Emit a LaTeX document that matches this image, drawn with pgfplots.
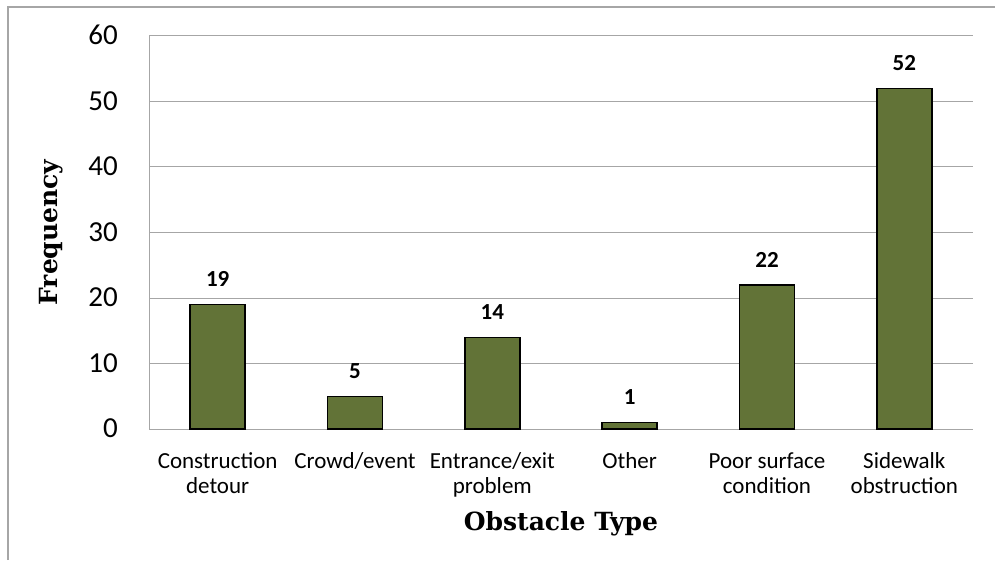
\documentclass[border=0pt]{standalone}
\usepackage{fontspec}
\setmainfont{Carlito}
\newfontfamily\labfont{DejaVu Serif}
\usepackage{pgfplots}
\pgfplotsset{compat=1.18}
\definecolor{barfill}{RGB}{98,115,55}
\definecolor{gridgray}{RGB}{166,166,166}
\begin{document}
\begin{tikzpicture}[x=1pt,y=1pt]
\path[use as bounding box] (0,0) rectangle (995,560);
\draw[gridgray, line width=2pt] (8,0) -- (8,553) -- (995,553);
\begin{axis}[
  at={(149pt,131pt)}, anchor=south west,
  scale only axis, width=824pt, height=393pt,
  xmin=-0.5, xmax=5.5, ymin=0, ymax=60,
  ytick={0,10,...,60},
  xtick=data,
  xticklabels={{Construction\\detour},{Crowd/event},{Entrance/exit\\problem},{Other},{Poor surface\\condition},{Sidewalk\\obstruction}},
  /pgf/number format/assume math mode=true,
  ymajorgrids, grid style={gridgray, line width=1pt},
  axis x line=bottom, axis y line=left,
  axis line style={gridgray, line width=1pt, -},
  major tick length=0pt,
  yticklabel style={font=\fontsize{29}{29}\selectfont, inner sep=0pt, anchor=east, xshift=-31pt, yshift=-3pt},
  xticklabel style={font=\fontsize{23}{25}\selectfont, align=center, inner sep=0pt, anchor=north, yshift=-22pt},
  typeset ticklabels with strut,
  ybar, bar width=0.4,
  xlabel={\labfont\bfseries Obstacle Type},
  xlabel style={at={(rel axis cs:0.5,0)}, anchor=base, yshift=-101pt, font=\fontsize{25}{25}\selectfont},
  ylabel={\labfont\bfseries Frequency},
  ylabel style={at={(rel axis cs:0,0.5)}, anchor=center, yshift=98pt, font=\fontsize{25}{25}\selectfont},
  clip=false,
]
\addplot[fill=barfill, draw=black, line width=1.5pt,
  nodes near coords,
  nodes near coords style={font=\fontsize{23}{23}\selectfont\bfseries, black, anchor=south, inner sep=0pt, yshift=17pt}]
  coordinates {(0,19) (1,5) (2,14) (3,1) (4,22) (5,52)};
\end{axis}
\end{tikzpicture}
\end{document}
